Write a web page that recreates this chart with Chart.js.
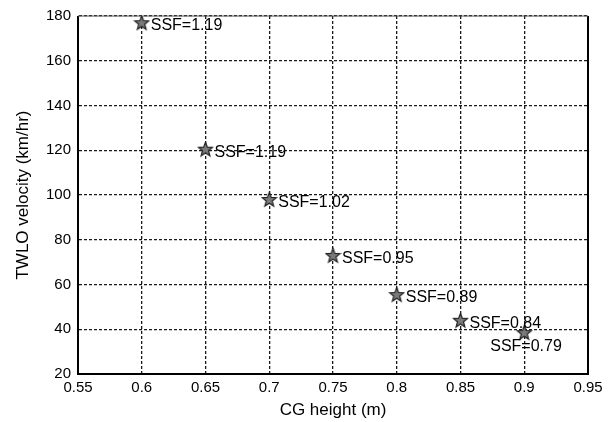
<!DOCTYPE html>
<html><head><meta charset="utf-8">
<script src="https://cdn.jsdelivr.net/npm/chart.js@4/dist/chart.umd.min.js"></script>
<style>html,body{margin:0;padding:0;background:#fff}#wrap{width:612px;height:422px}</style>
</head><body><div id="wrap"><canvas id="c" width="612" height="422"></canvas></div>
<script>
const cgHeight = [0.6, 0.65, 0.7, 0.75, 0.8, 0.85, 0.9];
const twloVelocity = [177, 120.5, 98, 73, 55.5, 44, 38.5];
const ssfLabels = ['SSF=1.19', 'SSF=1.19', 'SSF=1.02', 'SSF=0.95', 'SSF=0.89', 'SSF=0.84', 'SSF=0.79'];
const xTicks = [0.55, 0.6, 0.65, 0.7, 0.75, 0.8, 0.85, 0.9, 0.95];
const yTicks = [20, 40, 60, 80, 100, 120, 140, 160, 180];

const FONT = "'Liberation Sans', Arial, sans-serif";

function makeStar(size) {
  const c = document.createElement('canvas');
  c.width = c.height = size;
  const g = c.getContext('2d');
  const cx = size / 2, cy = size / 2 + 0.5, R = size / 2 - 1, r = R * 0.42;
  g.beginPath();
  for (let i = 0; i < 10; i++) {
    const a = -Math.PI / 2 + i * Math.PI / 5;
    const rr = i % 2 ? r : R;
    g.lineTo(cx + rr * Math.cos(a), cy + rr * Math.sin(a));
  }
  g.closePath();
  g.fillStyle = '#7a7a7a';
  g.fill();
  g.strokeStyle = '#222';
  g.lineWidth = 1.2;
  g.stroke();
  return c;
}
const starImg = makeStar(17);

const framePlugin = {
  id: 'frame',
  afterDraw(chart) {
    const { ctx, chartArea: a } = chart;
    ctx.save();
    ctx.strokeStyle = '#000';
    ctx.lineWidth = 2;
    ctx.beginPath();
    ctx.moveTo(a.left, a.top); ctx.lineTo(a.left, a.bottom); ctx.lineTo(a.right, a.bottom); ctx.lineTo(a.right, a.top);
    ctx.stroke();
    ctx.lineWidth = 1;
    ctx.strokeStyle = '#555';
    ctx.beginPath();
    ctx.moveTo(a.left, a.top); ctx.lineTo(a.right, a.top);
    ctx.stroke();
    ctx.restore();
  }
};

const labelPlugin = {
  id: 'ptLabels',
  afterDatasetsDraw(chart, args, opts) {
    const { ctx } = chart;
    const meta = chart.getDatasetMeta(0);
    ctx.save();
    ctx.font = opts.font;
    ctx.fillStyle = '#000';
    ctx.textBaseline = 'middle';
    ctx.textAlign = 'left';
    meta.data.forEach((el, i) => {
      const place = opts.placement[i] || 'right';
      if (place === 'below') {
        ctx.fillText(ssfLabels[i], el.x - 34, el.y + 14);
      } else {
        ctx.fillText(ssfLabels[i], el.x + 9, el.y + 3);
      }
    });
    ctx.restore();
  }
};

const gridStyle = { color: '#1a1a1a', lineWidth: 1.3, drawTicks: false };
const borderStyle = { dash: [3, 2], display: true, color: '#000' };

new Chart(document.getElementById('c'), {
  type: 'scatter',
  data: {
    datasets: [{
      data: cgHeight.map((x, i) => ({ x, y: twloVelocity[i] })),
      pointStyle: starImg,
      showLine: false
    }]
  },
  options: {
    responsive: false,
    devicePixelRatio: 1,
    animation: false,
    layout: { padding: { top: 15, right: 24, left: 0, bottom: 0 } },
    plugins: {
      legend: { display: false },
      tooltip: { enabled: false },
      ptLabels: { font: "16px " + FONT, placement: ['right', 'right', 'right', 'right', 'right', 'right', 'below'] }
    },
    scales: {
      x: {
        type: 'linear', min: 0.55, max: 0.95,
        afterBuildTicks: s => { s.ticks = xTicks.map(v => ({ value: v })); },
        afterFit: s => { s.height = 48; },
        ticks: { color: '#000', font: { family: FONT, size: 15 }, padding: 5, callback: v => String(v), maxRotation: 0, autoSkip: false },
        grid: gridStyle,
        border: borderStyle,
        title: { display: true, text: 'CG height (m)', color: '#000', font: { family: FONT, size: 17 }, padding: { top: 0, bottom: 1 } }
      },
      y: {
        type: 'linear', min: 20, max: 180,
        afterBuildTicks: s => { s.ticks = yTicks.map(v => ({ value: v })); },
        afterFit: s => { s.width = 78; },
        ticks: { color: '#000', font: { family: FONT, size: 15 }, padding: 7, callback: v => String(v), autoSkip: false },
        grid: gridStyle,
        border: borderStyle,
        title: { display: true, text: 'TWLO velocity (km/hr)', color: '#000', font: { family: FONT, size: 17 }, padding: { top: 13, bottom: 0 } }
      }
    }
  },
  plugins: [labelPlugin, framePlugin]
});
</script>
</body></html>
